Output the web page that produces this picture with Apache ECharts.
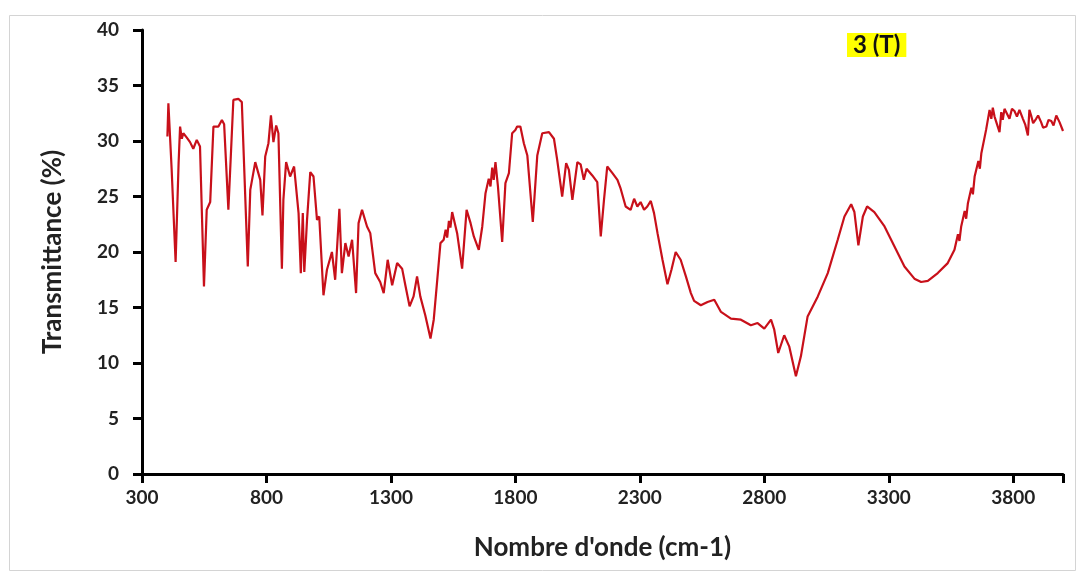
<!DOCTYPE html>
<html>
<head>
<meta charset="utf-8">
<script src="https://cdn.jsdelivr.net/npm/echarts@6/dist/echarts.min.js"></script>
<style>
  html, body { margin: 0; padding: 0; background: #fff; }
  #chart { width: 1084px; height: 576px; }
</style>
</head>
<body>
<div id="chart"></div>
<script>
// wavenumber (cm-1) and transmittance (%)
const wavenumbers = [
  402, 406, 419, 425, 435, 447, 453, 460, 466, 480, 493, 506, 520, 533, 549, 560, 574, 587, 607, 621, 630,
  647, 667, 687, 701, 725, 735, 755, 775, 784, 795, 808, 818, 828, 839, 848, 862, 868, 879, 895, 911,
  929, 938, 946, 952, 963, 976, 989, 1003, 1012, 1029, 1043, 1063, 1076, 1093, 1103, 1117, 1130, 1144,
  1160, 1170, 1184, 1204, 1217, 1237, 1257, 1271, 1287, 1305, 1325, 1345, 1358, 1375, 1391, 1405, 1418,
  1438, 1459, 1472, 1485, 1499, 1512, 1520, 1526, 1533, 1539, 1546, 1553, 1566, 1586, 1604, 1620, 1633,
  1653, 1667, 1680, 1693, 1700, 1707, 1713, 1720, 1730, 1747, 1760, 1774, 1787, 1800, 1807, 1820, 1834,
  1848, 1870, 1888, 1908, 1935, 1955, 1968, 1988, 2004, 2015, 2029, 2049, 2062, 2075, 2086, 2109, 2129,
  2143, 2156, 2169, 2190, 2210, 2223, 2243, 2263, 2277, 2290, 2303, 2317, 2330, 2344, 2357, 2371, 2391,
  2411, 2427, 2444, 2464, 2485, 2505, 2518, 2545, 2572, 2599, 2626, 2666, 2706, 2746, 2773, 2800, 2827,
  2840, 2856, 2880, 2900, 2927, 2947, 2974, 3015, 3055, 3095, 3122, 3149, 3162, 3178, 3196, 3213, 3242,
  3283, 3323, 3363, 3403, 3430, 3457, 3497, 3537, 3564, 3578, 3584, 3591, 3605, 3611, 3618, 3632, 3638,
  3645, 3660, 3666, 3672, 3691, 3705, 3712, 3718, 3725, 3735, 3745, 3752, 3758, 3765, 3785, 3795, 3805,
  3815, 3825, 3839, 3848, 3859, 3865, 3872, 3880, 3892, 3900, 3912, 3920, 3933, 3942, 3953, 3962, 3973,
  3986, 4000
];
const transmittance = [
  30.4, 33.4, 27.5, 27.4, 19.1, 28.0, 31.3, 30.2, 30.7, 30.3, 29.9, 29.3, 30.1, 29.5, 16.9, 23.8, 24.5, 31.3, 31.3, 31.9, 31.5,
  23.8, 33.7, 33.8, 33.5, 18.7, 25.6, 28.1, 26.5, 23.3, 28.6, 29.8, 32.3, 29.9, 31.4, 30.7, 18.5, 24.7, 28.1, 26.8, 27.7,
  23.5, 18.1, 23.5, 18.2, 22.9, 27.2, 26.8, 22.9, 23.2, 16.1, 18.4, 20.0, 17.5, 23.9, 18.1, 20.8, 19.6, 21.1,
  16.3, 22.6, 23.8, 22.3, 21.7, 18.1, 17.3, 16.3, 19.3, 17.0, 19.0, 18.5, 17.0, 15.1, 16.0, 17.8, 16.0,
  14.3, 12.2, 13.9, 17.2, 20.8, 21.1, 22.0, 21.3, 22.8, 22.2, 23.6, 23.5, 21.7, 18.5, 23.8, 22.6, 21.4,
  20.2, 22.3, 25.3, 26.6, 25.9, 27.6, 26.5, 28.1, 25.9, 20.9, 26.2, 27.1, 30.7, 31.0, 31.3, 31.3, 29.8,
  28.7, 22.7, 28.7, 30.7, 30.8, 30.2, 28.3, 25.0, 28.0, 27.4, 24.7, 28.1, 27.9, 26.5, 27.5, 26.9, 26.3,
  21.4, 24.7, 27.7, 27.1, 26.5, 25.7, 24.1, 23.8, 24.8, 24.1, 24.5, 23.8, 24.1, 24.6, 23.5, 21.7, 19.3,
  17.1, 18.4, 20.0, 19.3, 17.8, 16.3, 15.6, 15.2, 15.5, 15.7, 14.6, 14.0, 13.9, 13.4, 13.6, 13.1, 13.9,
  13.0, 10.9, 12.5, 11.5, 8.8, 10.6, 14.2, 16.0, 18.1, 21.1, 23.2, 24.3, 23.6, 20.6, 23.2, 24.1, 23.6,
  22.3, 20.5, 18.7, 17.6, 17.3, 17.4, 18.1, 19.0, 20.2, 21.6, 21.0, 22.3, 23.7, 23.0, 24.4, 25.8, 25.2,
  26.8, 28.2, 27.5, 28.9, 31.0, 32.8, 32.0, 33.0, 32.2, 31.5, 30.8, 32.6, 31.9, 32.9, 32.0, 32.9, 32.7,
  32.2, 32.8, 32.0, 31.5, 30.5, 32.8, 32.3, 31.6, 32.0, 32.3, 31.7, 31.2, 31.3, 31.9, 31.8, 31.4, 32.3,
  31.7, 30.9
];
const xTicks = [300, 800, 1300, 1800, 2300, 2800, 3300, 3800];
const sampleLabel = '3 (T)';

const font = 'Lato, "Open Sans", sans-serif';
const chart = echarts.init(document.getElementById('chart'));

const option = {
  backgroundColor: '#fff',
  animation: false,
  grid: { left: 142, right: 21, top: 30, bottom: 102 },
  xAxis: {
    type: 'value',
    min: 300,
    max: 4000,
    interval: 500,
    name: "Nombre d'onde (cm-1)",
    nameLocation: 'middle',
    nameGap: 61,
    nameTextStyle: { fontFamily: font, fontSize: 26, fontWeight: 'bold', color: '#222' },
    axisLine: { lineStyle: { color: '#000', width: 3 } },
    axisTick: { length: 9, lineStyle: { color: '#000', width: 3 } },
    axisLabel: {
      margin: 14, fontFamily: font, fontSize: 19, fontWeight: 'bold', color: '#222',
      formatter: v => (xTicks.includes(v) ? String(v) : '')
    },
    splitLine: { show: false }
  },
  yAxis: {
    type: 'value',
    min: 0,
    max: 40,
    interval: 5,
    name: 'Transmittance (%)',
    nameLocation: 'middle',
    nameGap: 76,
    nameTextStyle: { fontFamily: font, fontSize: 26, fontWeight: 'bold', color: '#222' },
    axisLine: { show: true, lineStyle: { color: '#000', width: 3 } },
    axisTick: { show: true, length: 9, lineStyle: { color: '#000', width: 3 } },
    axisLabel: { margin: 23, fontFamily: font, fontSize: 19, fontWeight: 'bold', color: '#222' },
    splitLine: { show: false }
  },
  series: [{
    type: 'line',
    data: wavenumbers.map((w, i) => [w, transmittance[i]]),
    showSymbol: false,
    symbol: 'none',
    lineStyle: { color: '#C8101A', width: 2.2 }
  }],
  graphic: [
    {
      type: 'rect',
      shape: { x: 9.5, y: 15.5, width: 1066, height: 555 },
      style: { fill: 'none', stroke: '#d4d4d4', lineWidth: 1 },
      silent: true
    },
    {
      type: 'text',
      left: 847,
      top: 33,
      style: {
        text: sampleLabel,
        font: 'bold 24px Lato, "Open Sans", sans-serif',
        fill: '#111',
        backgroundColor: '#FFFF00',
        padding: [0, 6, 0, 6]
      }
    }
  ]
};

chart.setOption(option);
</script>
</body>
</html>
